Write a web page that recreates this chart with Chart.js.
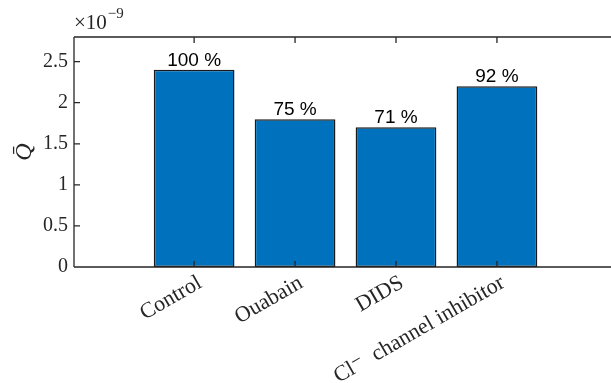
<!DOCTYPE html>
<html><head><meta charset="utf-8">
<script src="https://cdn.jsdelivr.net/npm/chart.js@4/dist/chart.umd.min.js"></script>
<style>html,body{margin:0;padding:0;background:#fff;overflow:hidden}</style>
</head><body>
<canvas id="c" width="611" height="383"></canvas>
<script>
// Mean charge per treatment, in units of 1e-9
const categories = ['Control', 'Ouabain', 'DIDS', 'Cl\u207B  channel inhibitor'];
const positions = [1, 2, 3, 4];
const qValues = [2.40, 1.80, 1.70, 2.20];
const yTicks = [0, 0.5, 1, 1.5, 2, 2.5];
const yTickLabels = ['0', '0.5', '1', '1.5', '2', '2.5'];
const yExponent = '-9';
const yTitle = 'Q\u0304';

// Percent of control shown above each bar
const percentLabels = qValues.map(v => Math.round(v / qValues[0] * 100) + ' %');

const AXIS = '#262626';
const SERIF = '"Liberation Serif", "DejaVu Serif", serif';
const SANS = '"Liberation Sans", Arial, sans-serif';

const framePlugin = {
  id: 'frame',
  afterDatasetsDraw(chart) {
    const ctx = chart.ctx;
    const meta = chart.getDatasetMeta(0);
    ctx.save();
    ctx.fillStyle = '#000';
    ctx.font = '19px ' + SANS;
    ctx.textAlign = 'center';
    ctx.textBaseline = 'alphabetic';
    meta.data.forEach((bar, i) => {
      ctx.fillText(percentLabels[i], bar.x, bar.y - 4);
    });
    ctx.restore();
  },
  afterDraw(chart) {
    const ctx = chart.ctx;
    const a = chart.chartArea;
    const xs = chart.scales.x, ys = chart.scales.y;
    ctx.save();
    ctx.strokeStyle = AXIS;
    ctx.lineWidth = 1.3;
    ctx.beginPath();
    ctx.moveTo(a.left, a.top); ctx.lineTo(chart.width, a.top);
    ctx.moveTo(a.left, a.top); ctx.lineTo(a.left, a.bottom);
    ctx.moveTo(a.left, a.bottom); ctx.lineTo(chart.width, a.bottom);
    // inward ticks
    yTicks.forEach(v => {
      const y = ys.getPixelForValue(v);
      ctx.moveTo(a.left, y); ctx.lineTo(a.left + 6, y);
    });
    positions.forEach(v => {
      const x = xs.getPixelForValue(v);
      ctx.moveTo(x, a.bottom); ctx.lineTo(x, a.bottom - 6);
      ctx.moveTo(x, a.top); ctx.lineTo(x, a.top + 6);
    });
    ctx.stroke();

    // exponent multiplier above the y axis
    ctx.fillStyle = AXIS;
    ctx.textBaseline = 'alphabetic';
    ctx.textAlign = 'left';
    ctx.font = '21px ' + SERIF;
    const base = '\u00D710';
    ctx.fillText(base, a.left, a.top - 8);
    const w = ctx.measureText(base).width;
    ctx.font = '15px ' + SERIF;
    ctx.fillText('\u2212' + yExponent.slice(1), a.left + w + 1, a.top - 19);

    // y axis title
    ctx.translate(31, (a.top + a.bottom) / 2);
    ctx.rotate(-Math.PI / 2);
    ctx.textAlign = 'center';
    ctx.font = 'italic 24px ' + SERIF;
    ctx.fillText(yTitle, 0, 0);
    ctx.restore();
  }
};

new Chart(document.getElementById('c').getContext('2d'), {
  type: 'bar',
  data: {
    datasets: [{
      data: positions.map((x, i) => ({ x: x, y: qValues[i] })),
      backgroundColor: '#0072BD',
      borderColor: '#1a1a1a',
      borderWidth: 1.5,
      borderSkipped: false,
      barPercentage: 0.8,
      categoryPercentage: 1
    }]
  },
  options: {
    responsive: false,
    animation: false,
    layout: { padding: { top: 37, right: 0, left: 0, bottom: 0 } },
    plugins: { legend: { display: false }, tooltip: { enabled: false } },
    scales: {
      x: {
        type: 'linear',
        offset: false,
        min: -0.19,
        max: 5.13,
        grid: { display: false, drawTicks: false },
        border: { display: false },
        afterBuildTicks: s => { s.ticks = positions.map(v => ({ value: v })); },
        afterFit: s => { s.height = 116; },
        ticks: {
          autoSkip: false,
          minRotation: 30,
          maxRotation: 30,
          padding: 3,
          labelOffset: 6,
          color: AXIS,
          font: { family: SERIF, size: 22 },
          callback: v => categories[positions.indexOf(v)]
        }
      },
      y: {
        min: 0,
        max: 2.8,
        grid: { display: false, drawTicks: false },
        border: { display: false },
        afterBuildTicks: s => { s.ticks = yTicks.map(v => ({ value: v })); },
        afterFit: s => { s.width = 74; },
        ticks: {
          padding: 6,
          color: AXIS,
          font: { family: SERIF, size: 20 },
          callback: v => yTickLabels[yTicks.indexOf(v)]
        }
      }
    }
  },
  plugins: [framePlugin]
});
</script>
</body></html>
